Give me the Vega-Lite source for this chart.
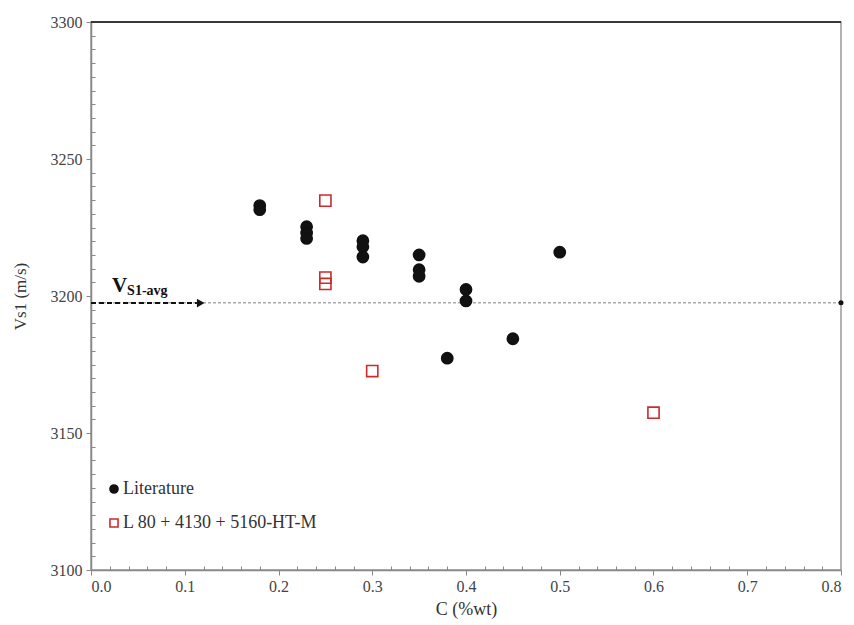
{
  "$schema": "https://vega.github.io/schema/vega-lite/v6.json",
  "width": 750,
  "height": 548,
  "autosize": {"type": "none"},
  "padding": {"left": 91, "top": 22, "right": 13, "bottom": 55},
  "background": "white",
  "config": {
    "view": {"stroke": "#999", "strokeWidth": 1.5},
    "font": "Liberation Serif",
    "axis": {
      "grid": false,
      "domainColor": "#888",
      "domainWidth": 1.5,
      "tickColor": "#888",
      "labelFont": "Liberation Serif",
      "labelFontSize": 16,
      "labelColor": "#444",
      "titleFont": "Liberation Serif",
      "titleFontSize": 17,
      "titleFontWeight": "normal",
      "titleColor": "#333",
      "labelOverlap": false
    },
    "legend": {
      "orient": "none",
      "legendX": 14,
      "legendY": 458,
      "labelFont": "Liberation Serif",
      "labelFontSize": 18,
      "labelColor": "#333",
      "labelLimit": 500,
      "symbolSize": 65,
      "rowPadding": 16,
      "symbolStrokeWidth": 1.6,
      "labelOffset": 0
    }
  },
  "layer": [
    {
      "data": {"values": [{}]},
      "mark": {"type": "rule", "color": "#aaa", "strokeWidth": 1.5, "strokeDash": [3, 2]},
      "encoding": {"y": {"datum": 3197.5, "type": "quantitative"}}
    },
    {
      "data": {"values": [{}]},
      "mark": {"type": "rule", "color": "#111", "strokeWidth": 1.5},
      "encoding": {"y": {"datum": 3300, "type": "quantitative"}}
    },
    {
      "data": {"values": [{}]},
      "mark": {"type": "rule", "color": "#111", "strokeWidth": 2, "strokeDash": [5, 3]},
      "encoding": {
        "x": {"datum": 0, "type": "quantitative"},
        "x2": {"datum": 0.113},
        "y": {"datum": 3197.4, "type": "quantitative"}
      }
    },
    {
      "data": {"values": [{}]},
      "mark": {"type": "point", "shape": "triangle-right", "filled": true, "color": "#111", "size": 75, "opacity": 1},
      "encoding": {
        "x": {"datum": 0.117, "type": "quantitative"},
        "y": {"datum": 3197.4, "type": "quantitative"}
      }
    },
    {
      "data": {"values": [{}]},
      "mark": {"type": "point", "shape": "circle", "filled": true, "color": "#111", "size": 25, "opacity": 1},
      "encoding": {
        "x": {"datum": 0.8, "type": "quantitative"},
        "y": {"datum": 3197.5, "type": "quantitative"}
      }
    },
    {
      "data": {"values": [{"t": "V", "x": 0.0225, "y": 3201.5}]},
      "mark": {"type": "text", "font": "Liberation Serif", "fontWeight": "bold", "fontSize": 21, "align": "left", "baseline": "alphabetic", "color": "#111"},
      "encoding": {
        "x": {"field": "x", "type": "quantitative"},
        "y": {"field": "y", "type": "quantitative"},
        "text": {"field": "t"}
      }
    },
    {
      "data": {"values": [{"t": "S1-avg", "x": 0.0385, "y": 3200.4}]},
      "mark": {"type": "text", "font": "Liberation Serif", "fontWeight": "bold", "fontSize": 14, "align": "left", "baseline": "alphabetic", "color": "#111"},
      "encoding": {
        "x": {"field": "x", "type": "quantitative"},
        "y": {"field": "y", "type": "quantitative"},
        "text": {"field": "t"}
      }
    },
    {
      "data": {
        "values": [
          {"series": "Literature", "c": 0.18, "vs1": 3233},
          {"series": "Literature", "c": 0.18, "vs1": 3231.5},
          {"series": "Literature", "c": 0.23, "vs1": 3225.3},
          {"series": "Literature", "c": 0.23, "vs1": 3223},
          {"series": "Literature", "c": 0.23, "vs1": 3221},
          {"series": "Literature", "c": 0.29, "vs1": 3220.2},
          {"series": "Literature", "c": 0.29, "vs1": 3218},
          {"series": "Literature", "c": 0.29, "vs1": 3214.2},
          {"series": "Literature", "c": 0.35, "vs1": 3215},
          {"series": "Literature", "c": 0.35, "vs1": 3209.6},
          {"series": "Literature", "c": 0.35, "vs1": 3207.2},
          {"series": "Literature", "c": 0.38, "vs1": 3177.3},
          {"series": "Literature", "c": 0.4, "vs1": 3202.4},
          {"series": "Literature", "c": 0.4, "vs1": 3198.2},
          {"series": "Literature", "c": 0.45, "vs1": 3184.4},
          {"series": "Literature", "c": 0.5, "vs1": 3216},
          {"series": "L 80 + 4130 + 5160-HT-M", "c": 0.25, "vs1": 3234.8},
          {"series": "L 80 + 4130 + 5160-HT-M", "c": 0.25, "vs1": 3206.7},
          {"series": "L 80 + 4130 + 5160-HT-M", "c": 0.25, "vs1": 3204.4},
          {"series": "L 80 + 4130 + 5160-HT-M", "c": 0.3, "vs1": 3172.6},
          {"series": "L 80 + 4130 + 5160-HT-M", "c": 0.6, "vs1": 3157.4}
        ]
      },
      "mark": {"type": "point", "filled": false, "strokeWidth": 1.6, "opacity": 1, "size": 125},
      "encoding": {
        "x": {
          "field": "c",
          "type": "quantitative",
          "title": "C (%wt)",
          "scale": {"domain": [0, 0.8], "nice": false, "zero": false},
          "axis": {
            "values": [0, 0.02, 0.04, 0.06, 0.08, 0.1, 0.12, 0.14, 0.16, 0.18, 0.2, 0.22, 0.24, 0.26, 0.28, 0.3, 0.32, 0.34, 0.36, 0.38, 0.4, 0.42, 0.44, 0.46, 0.48, 0.5, 0.52, 0.54, 0.56, 0.58, 0.6, 0.62, 0.64, 0.66, 0.68, 0.7, 0.72, 0.74, 0.76, 0.78, 0.8],
            "tickCount": 200,
            "labelExpr": "abs(datum.value*10 - round(datum.value*10)) < 0.000001 ? format(datum.value, '.1f') : ''",
            "tickSize": {"condition": {"test": "abs(datum.value*10 - round(datum.value*10)) < 0.000001", "value": 5}, "value": -4},
            "labelOverlap": false,
            "labelPadding": 3,
            "titleFontSize": 18,
            "titlePadding": 6
          }
        },
        "y": {
          "field": "vs1",
          "type": "quantitative",
          "title": "Vs1 (m/s)",
          "scale": {"domain": [3100, 3300], "nice": false, "zero": false},
          "axis": {
            "values": [3100, 3105, 3110, 3115, 3120, 3125, 3130, 3135, 3140, 3145, 3150, 3155, 3160, 3165, 3170, 3175, 3180, 3185, 3190, 3195, 3200, 3205, 3210, 3215, 3220, 3225, 3230, 3235, 3240, 3245, 3250, 3255, 3260, 3265, 3270, 3275, 3280, 3285, 3290, 3295, 3300],
            "tickCount": 200,
            "labelExpr": "datum.value % 50 === 0 ? format(datum.value, 'd') : ''",
            "tickSize": {"condition": {"test": "datum.value % 50 === 0", "value": 5}, "value": -4},
            "labelOverlap": false,
            "labelPadding": 4,
            "titlePadding": 21
          }
        },
        "shape": {
          "field": "series",
          "type": "nominal",
          "title": null,
          "scale": {"domain": ["Literature", "L 80 + 4130 + 5160-HT-M"], "range": ["circle", "square"]}
        },
        "color": {
          "field": "series",
          "type": "nominal",
          "title": null,
          "scale": {"domain": ["Literature", "L 80 + 4130 + 5160-HT-M"], "range": ["#111111", "#cc2b2b"]}
        },
        "fill": {
          "field": "series",
          "type": "nominal",
          "title": null,
          "scale": {"domain": ["Literature", "L 80 + 4130 + 5160-HT-M"], "range": ["#111111", "transparent"]}
        }
      }
    }
  ]
}
